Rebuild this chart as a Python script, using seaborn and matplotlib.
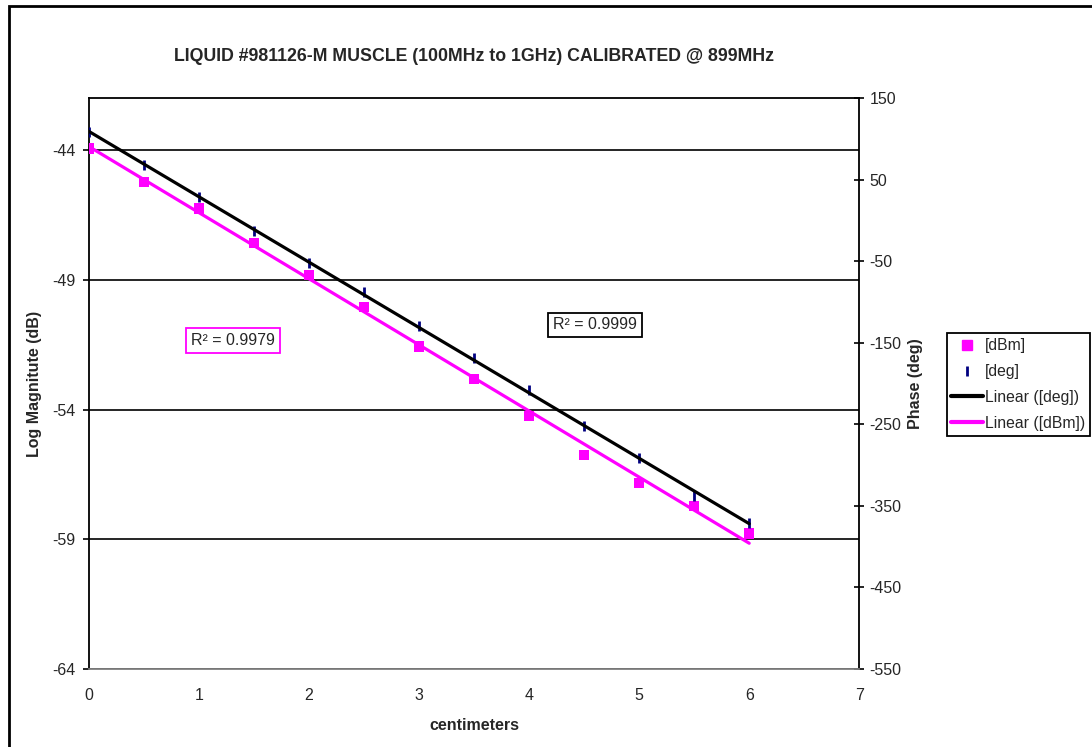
import numpy as np
import pandas as pd
import matplotlib
matplotlib.use("Agg")
import matplotlib.pyplot as plt
from matplotlib.lines import Line2D
from matplotlib.patches import Rectangle
import seaborn as sns

# readings off the calibration sheet
cm = [0.0, 0.5, 1.0, 1.5, 2.0, 2.5, 3.0, 3.5, 4.0, 4.5, 5.0, 5.5, 6.0]
dbm = [-43.93, -45.22, -46.25, -47.58, -48.80, -50.05, -51.57,
       -52.81, -54.26, -55.74, -56.83, -57.71, -58.78]
deg = [108.3, 68.2, 29.3, -12.4, -51.6, -88.0, -129.3,
       -168.9, -207.8, -251.6, -291.6, -337.4, -371.3]
r2_dbm = "R\u00b2 = 0.9979"
r2_deg = "R\u00b2 = 0.9999"
title = "LIQUID #981126-M MUSCLE (100MHz to 1GHz) CALIBRATED @ 899MHz"

df = pd.DataFrame({"cm": cm, "dbm": dbm, "deg": deg})

sns.set_style("white")
plt.rcParams["font.family"] = ["Liberation Sans", "DejaVu Sans"]
plt.rcParams["font.size"] = 11
plt.rcParams["axes.unicode_minus"] = False

fig = plt.figure(figsize=(10.92, 7.47), dpi=100)
ax = fig.add_axes([0.0812, 0.1044, 0.7057, 0.764])
ax2 = ax.twinx()

# left axis: log magnitude
sns.scatterplot(data=df, x="cm", y="dbm", ax=ax, marker="s", color="magenta",
                s=55, edgecolor="none", zorder=3, legend=False)
sns.regplot(data=df, x="cm", y="dbm", ax=ax, scatter=False, ci=None, truncate=True,
            color="magenta", line_kws={"lw": 2.3, "zorder": 4})

# right axis: phase
sns.scatterplot(data=df, x="cm", y="deg", ax=ax2, marker="|", color="#000080",
                s=45, linewidth=2, zorder=3, legend=False)
sns.regplot(data=df, x="cm", y="deg", ax=ax2, scatter=False, ci=None, truncate=True,
            color="black", line_kws={"lw": 2.3, "zorder": 4})

ax.set_xlim(0, 7)
ax.set_xticks(range(0, 8))
ax.set_ylim(-64, -42)
ax.set_yticks([-64, -59, -54, -49, -44])
ax2.set_ylim(-550, 150)
ax2.set_yticks(range(-550, 151, 100))

ax.yaxis.grid(True, color="black", lw=1.2)
ax.set_axisbelow(True)

for s in ["top", "right", "bottom"]:
    ax.spines[s].set_visible(False)
ax.spines["left"].set_color("black")
ax.spines["left"].set_linewidth(1.3)
ax2.spines["left"].set_visible(False)
ax2.spines["right"].set_color("black")
ax2.spines["right"].set_linewidth(1.3)
ax2.spines["top"].set_color("black")
ax2.spines["top"].set_linewidth(1.3)
ax2.spines["bottom"].set_color("#808080")
ax2.spines["bottom"].set_linewidth(1.3)

ax.tick_params(axis="x", bottom=False, top=False, labelsize=11.5, pad=10)
ax2.tick_params(axis="x", bottom=False, top=True, direction="in", length=5,
                width=1.2, color="black", labelbottom=False)
ax.tick_params(axis="y", left=True, direction="out", length=4.5, width=1.2,
               color="black", labelsize=11.5, pad=5)
ax2.tick_params(axis="y", right=True, direction="inout", length=6.5, width=1.2,
                color="black", labelsize=11.5, pad=4)

ax.set_xlabel("centimeters", fontweight="bold", fontsize=11.5, labelpad=11)
ax.set_ylabel("Log Magnitute (dB)", fontweight="bold", fontsize=11.5, labelpad=7)
ax2.set_ylabel("Phase (deg)", fontweight="bold", fontsize=11.5, labelpad=5)
ax.set_title(title, fontweight="bold", fontsize=12.8, pad=27)

ax2.text(0.187, 0.576, r2_dbm, transform=ax2.transAxes, ha="center", va="center",
         fontsize=11.5, bbox=dict(boxstyle="square,pad=0.3", fc="white",
                                  ec="magenta", lw=1.3), zorder=6)
ax2.text(0.657, 0.603, r2_deg, transform=ax2.transAxes, ha="center", va="center",
         fontsize=11.5, bbox=dict(boxstyle="square,pad=0.3", fc="white",
                                  ec="black", lw=1.3), zorder=6)

handles = [
    Line2D([], [], marker="s", color="magenta", ls="none", ms=7),
    Line2D([], [], marker="|", color="#000080", ls="none", ms=7, mew=2),
    Line2D([], [], color="black", lw=3),
    Line2D([], [], color="magenta", lw=3),
]
labels = ["[dBm]", "[deg]", "Linear ([deg])", "Linear ([dBm])"]
leg = fig.legend(handles, labels, loc="upper left", bbox_to_anchor=(0.867, 0.5538),
                 frameon=True, fancybox=False, framealpha=1, edgecolor="black",
                 fontsize=11.3, handlelength=2.0, handletextpad=0.15,
                 labelspacing=0.7, borderpad=0.3, borderaxespad=0)
leg.get_frame().set_linewidth(1.3)

fig.patches.append(Rectangle((9 / 1092, -0.05), 1.2, 1.05 - 6 / 747,
                             transform=fig.transFigure, fill=False,
                             ec="black", lw=2))

fig.savefig("out.png", dpi=100)
